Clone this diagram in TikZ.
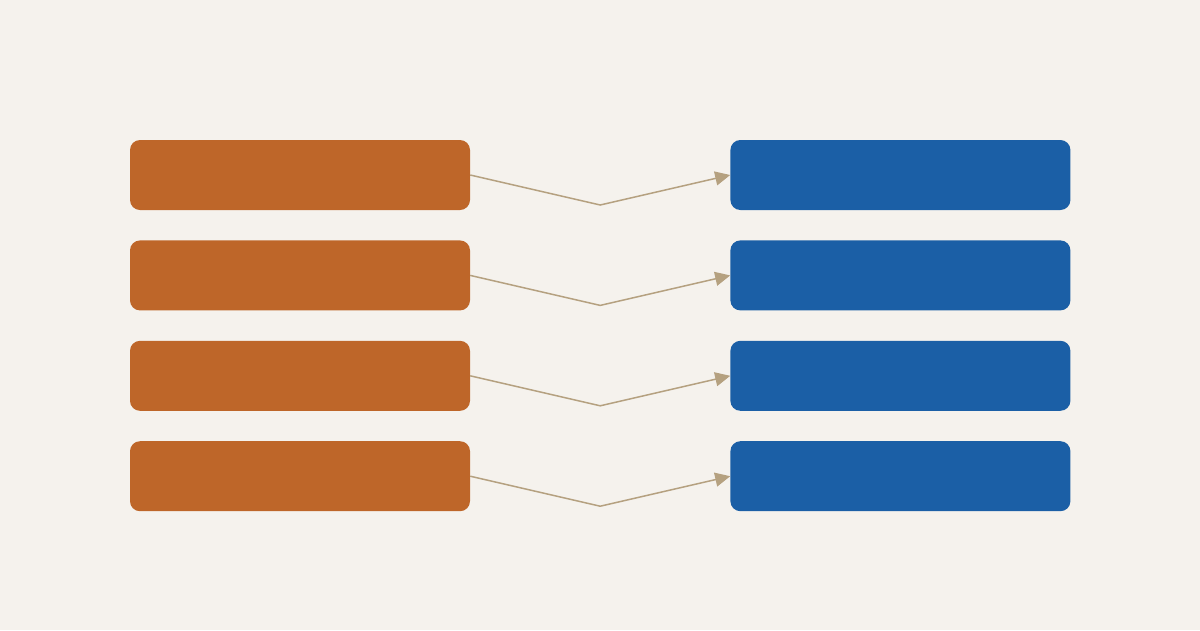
\documentclass[tikz,border=0pt]{standalone}
\definecolor{pageBg}{RGB}{245, 242, 237}
\definecolor{myRust}{RGB}{190, 102, 41}
\definecolor{myBlue}{RGB}{27, 95, 166}
\definecolor{myTan}{RGB}{181, 161, 128}
\usetikzlibrary{arrows.meta,positioning,calc}

\begin{document}
\begin{tikzpicture}[x=1pt, y=-1pt, node distance=30pt and 260pt]
    \fill[pageBg] (0,0) rectangle (1200,630);
    \useasboundingbox (0,0) rectangle (1200,630);

    \tikzset{
        leftbox/.style={rectangle, rounded corners=10pt, fill=myRust, minimum width=340pt, minimum height=70pt, inner sep=0pt},
        rightbox/.style={rectangle, rounded corners=10pt, fill=myBlue, minimum width=340pt, minimum height=70pt, inner sep=0pt},
        link/.style={-{Triangle[length=15pt, width=14pt]}, line width=1.5pt, myTan}
    }

    \node[leftbox] (a1) at (300,175) {};
    \node[leftbox, below=of a1] (a2) {};
    \node[leftbox, below=of a2] (a3) {};
    \node[leftbox, below=of a3] (a4) {};

    \node[rightbox, right=of a1] (b1) {};
    \node[rightbox, right=of a2] (b2) {};
    \node[rightbox, right=of a3] (b3) {};
    \node[rightbox, right=of a4] (b4) {};

    \foreach \i in {1,...,4} {
        \coordinate (m\i) at ($(a\i.east)!0.5!(b\i.west) + (0,30)$);
        \draw[link] (a\i.east) -- (m\i) -- (b\i.west);
    }
\end{tikzpicture}
\end{document}
